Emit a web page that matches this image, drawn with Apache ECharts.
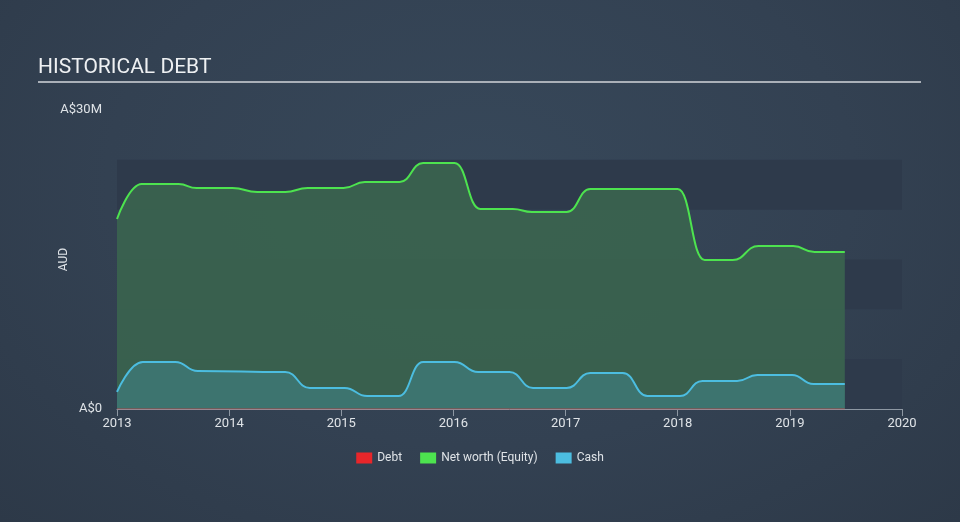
<!DOCTYPE html>
<html>
<head>
<meta charset="utf-8">
<script src="https://cdn.jsdelivr.net/npm/echarts@6/dist/echarts.min.js"></script>
<style>
  html, body { margin: 0; padding: 0; }
  body { width: 960px; height: 522px; background: radial-gradient(ellipse at 50% 35%, #37485a 0%, #334152 55%, #2d3948 100%); }
  #chart { width: 960px; height: 522px; }
</style>
</head>
<body>
<div id="chart"></div>
<script>
// ---- Data (values in A$ millions, dates as fractional years) ----
const yearTicks = [2013, 2014, 2015, 2016, 2017, 2018, 2019, 2020];

const equityDates  = [2013.00, 2013.22, 2013.55, 2013.71, 2014.03, 2014.25, 2014.50, 2014.70, 2015.02, 2015.21, 2015.52, 2015.73, 2016.01, 2016.24, 2016.53, 2016.70, 2017.01, 2017.22, 2018.00, 2018.24, 2018.49, 2018.72, 2019.03, 2019.22, 2019.49];
const equityValues = [19.06, 22.57, 22.57, 22.17, 22.17, 21.77, 21.77, 22.17, 22.17, 22.78, 22.78, 24.68, 24.68, 20.07, 20.07, 19.77, 19.77, 22.07, 22.07, 14.95, 14.95, 16.35, 16.35, 15.75, 15.75];

const cashDates  = [2013.00, 2013.23, 2013.52, 2013.72, 2014.50, 2014.72, 2015.03, 2015.23, 2015.51, 2015.73, 2016.01, 2016.22, 2016.50, 2016.71, 2017.01, 2017.22, 2017.51, 2017.73, 2018.02, 2018.22, 2018.53, 2018.71, 2019.02, 2019.21, 2019.49];
const cashValues = [1.71, 4.72, 4.72, 3.81, 3.71, 2.11, 2.11, 1.30, 1.30, 4.72, 4.72, 3.71, 3.71, 2.11, 2.11, 3.61, 3.61, 1.30, 1.30, 2.81, 2.81, 3.41, 3.41, 2.51, 2.51];

const debtDates  = [2013.00, 2019.49];
const debtValues = [0, 0];

const yMax = 30;

function pairs(xs, ys) { return xs.map((x, i) => [x, ys[i]]); }

const chart = echarts.init(document.getElementById('chart'), null, { renderer: 'canvas' });

const font = 'Roboto, "Open Sans", sans-serif';

chart.setOption({
  backgroundColor: 'transparent',
  animation: false,
  textStyle: { fontFamily: font },
  graphic: [
    { type: 'text', left: 38, top: 57, style: { text: 'HISTORICAL DEBT', fill: '#eef0f2', font: '21px ' + font } },
    { type: 'rect', shape: { x: 38, y: 81, width: 883, height: 2 }, style: { fill: '#aab0b8' } }
  ],
  grid: { left: 117, right: 58, top: 110, bottom: 113, containLabel: false },
  legend: {
    top: 447, left: 'center',
    itemWidth: 16, itemHeight: 11, itemGap: 18,
    icon: 'rect',
    textStyle: { color: '#dfe3e7', fontSize: 12, fontFamily: font },
    data: [
      { name: 'Debt', itemStyle: { color: '#e8262a' } },
      { name: 'Net worth (Equity)', itemStyle: { color: '#4de34f' } },
      { name: 'Cash', itemStyle: { color: '#4cbde0' } }
    ]
  },
  xAxis: {
    type: 'value', min: 2013, max: 2020, interval: 1,
    axisLine: { show: true, lineStyle: { color: '#8e98a3', width: 1 } },
    axisTick: { show: true, length: 7, lineStyle: { color: '#8e98a3' } },
    axisLabel: { color: '#dfe3e7', fontSize: 13, margin: 8, formatter: v => yearTicks.includes(v) ? String(v) : '' },
    splitLine: { show: false }
  },
  yAxis: {
    type: 'value', min: 0, max: yMax, interval: 5,
    name: 'AUD', nameLocation: 'middle', nameGap: 47, nameRotate: 90, nameMoveOverlap: false,
    nameTextStyle: { color: '#dfe3e7', fontSize: 12 },
    axisLine: { show: false }, axisTick: { show: false },
    axisLabel: { color: '#dfe3e7', fontSize: 13, margin: 15,
      formatter: v => v === 0 ? 'A$0' : (v === yMax ? 'A$' + v + 'M' : '') },
    splitLine: { show: false },
    splitArea: { show: true, areaStyle: { color: ['#2e3a4b', 'rgba(0,0,0,0)', '#2e3a4b', 'rgba(0,0,0,0)', '#2e3a4b', 'rgba(0,0,0,0)'] } }
  },
  series: [
    {
      name: 'Net worth (Equity)', type: 'line', data: pairs(equityDates, equityValues),
      smooth: 0.5, smoothMonotone: 'x', showSymbol: false, symbol: 'none',
      lineStyle: { color: '#4de34f', width: 2 },
      itemStyle: { color: '#4de34f' },
      areaStyle: { color: '#3a634f', opacity: 0.93 },
      z: 2
    },
    {
      name: 'Cash', type: 'line', data: pairs(cashDates, cashValues),
      smooth: 0.5, smoothMonotone: 'x', showSymbol: false, symbol: 'none',
      lineStyle: { color: '#4cbde0', width: 2 },
      itemStyle: { color: '#4cbde0' },
      areaStyle: { color: '#3d7571', opacity: 0.95 },
      z: 3
    },
    {
      name: 'Debt', type: 'line', data: pairs(debtDates, debtValues),
      showSymbol: false, symbol: 'none',
      lineStyle: { color: '#e8262a', width: 1, opacity: 0.6 },
      itemStyle: { color: '#e8262a' },
      z: 4
    }
  ]
});
</script>
</body>
</html>
